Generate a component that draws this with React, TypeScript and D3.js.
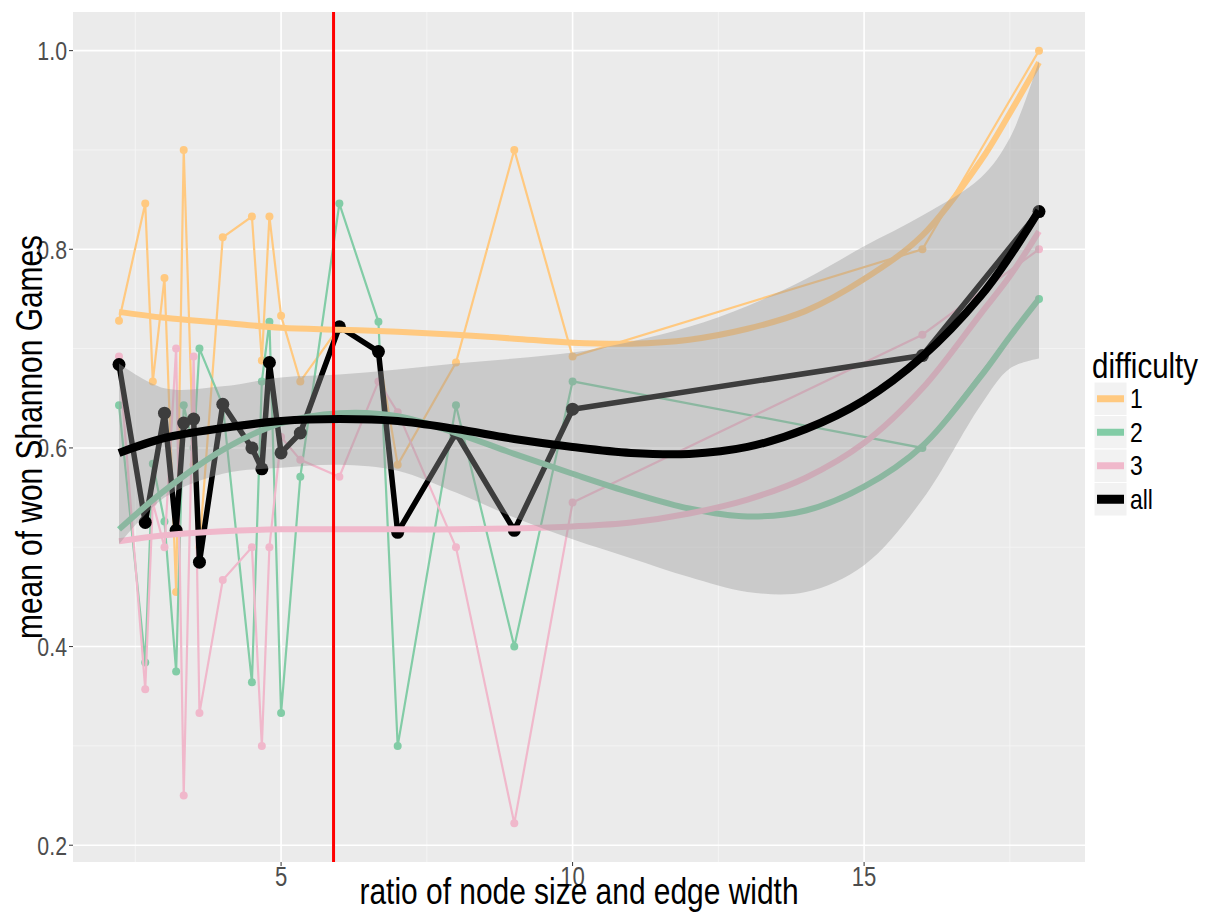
import React from "react";
import * as d3 from "d3";

// ---------- data ----------
const X_VALUES = [2.22, 2.67, 2.8, 3, 3.2, 3.33, 3.5, 3.6, 4, 4.5, 4.67, 4.8, 5, 5.33, 6, 6.67, 7, 8, 9, 10, 16, 18];
const DIFF1 = [0.728, 0.846, 0.667, 0.771, 0.455, 0.9, 0.583, 0.5, 0.812, 0.833, 0.688, 0.833, 0.733, 0.667, 0.722, 0.697, 0.583, 0.686, 0.9, 0.692, 0.8, 1.0];
const DIFF2 = [0.643, 0.384, 0.584, 0.526, 0.375, 0.643, 0.6, 0.7, 0.643, 0.364, 0.667, 0.727, 0.333, 0.571, 0.846, 0.727, 0.3, 0.643, 0.4, 0.667, 0.6, 0.75];
const DIFF3 = [0.692, 0.357, 0.545, 0.5, 0.7, 0.25, 0.692, 0.333, 0.467, 0.5, 0.3, 0.5, 0.611, 0.588, 0.571, 0.667, 0.636, 0.5, 0.222, 0.545, 0.714, 0.8];

const ALL_X = [2.22, 2.67, 3, 3.2, 3.33, 3.5, 3.6, 4, 4.5, 4.67, 4.8, 5, 5.33, 6, 6.67, 7, 8, 9, 10, 16, 18];
const ALL_Y = [0.684, 0.525, 0.635, 0.517, 0.625, 0.629, 0.485, 0.644, 0.6, 0.579, 0.686, 0.595, 0.615, 0.722, 0.697, 0.515, 0.615, 0.517, 0.639, 0.693, 0.838];

// smoothed curves
const SMOOTH_X = [2.22, 3, 4, 5, 6, 7, 8, 9, 10, 11, 12, 13, 14, 15, 16, 17, 17.5, 18];
const SMOOTH_1 = [0.737, 0.731, 0.726, 0.721, 0.719, 0.717, 0.714, 0.71, 0.706, 0.705, 0.709, 0.72, 0.738, 0.77, 0.814, 0.889, 0.937, 0.988];
const SMOOTH_2 = [0.518, 0.557, 0.598, 0.625, 0.635, 0.632, 0.615, 0.594, 0.574, 0.555, 0.539, 0.531, 0.537, 0.561, 0.602, 0.672, 0.712, 0.75];
const SMOOTH_3 = [0.506, 0.512, 0.516, 0.518, 0.518, 0.518, 0.518, 0.519, 0.521, 0.525, 0.534, 0.548, 0.57, 0.605, 0.66, 0.735, 0.773, 0.818];
const SMOOTH_ALL = [0.595, 0.61, 0.62, 0.627, 0.629, 0.627, 0.619, 0.609, 0.601, 0.595, 0.594, 0.601, 0.619, 0.648, 0.692, 0.753, 0.793, 0.839];
const RIBBON_LO = [0.503, 0.55, 0.574, 0.58, 0.583, 0.577, 0.555, 0.53, 0.508, 0.489, 0.47, 0.455, 0.455, 0.482, 0.548, 0.643, 0.68, 0.69];
const RIBBON_HI = [0.685, 0.66, 0.662, 0.671, 0.674, 0.679, 0.685, 0.69, 0.696, 0.707, 0.722, 0.743, 0.77, 0.803, 0.834, 0.872, 0.912, 0.99];

const VLINE_X = 5.9;
const X_TICKS = [5, 10, 15];
const X_MINOR = [2.5, 7.5, 12.5, 17.5];
const Y_TICKS = [0.2, 0.4, 0.6, 0.8, 1.0];
const Y_MINOR = [0.3, 0.5, 0.7, 0.9];

const LEGEND_LABELS = ["1", "2", "3", "all"];
const COLORS = ["#FFC980", "#82CCA6", "#F0B8CB", "#000000"];

// ---------- layout ----------
const W = 1216;
const H = 913;
const P = { left: 73, right: 1085, top: 12, bottom: 862 };
const FONT = "'Liberation Sans', Arial, Helvetica, sans-serif";
const NARROW = 0.82;

function T(props: {
  x: number;
  y: number;
  size: number;
  anchor?: string;
  fill?: string;
  rotate?: number;
  children: React.ReactNode;
}) {
  const { x, y, size, anchor = "start", fill = "#000", rotate = 0, children } = props;
  return (
    <text
      transform={`translate(${x},${y}) rotate(${rotate}) scale(${NARROW},1)`}
      fontSize={size}
      textAnchor={anchor as any}
      fill={fill}
      fontFamily={FONT}
    >
      {children}
    </text>
  );
}

export default function App() {
  const xExt = d3.extent(X_VALUES) as [number, number];
  const xPad = (xExt[1] - xExt[0]) * 0.05;
  const x = d3.scaleLinear().domain([xExt[0] - xPad, xExt[1] + xPad]).range([P.left, P.right]);

  const allVals = [...DIFF1, ...DIFF2, ...DIFF3, ...ALL_Y, ...RIBBON_LO, ...RIBBON_HI];
  const yMin = d3.min(allVals) as number;
  const yMax = d3.max(allVals) as number;
  const yPad = (yMax - yMin) * 0.05;
  const y = d3.scaleLinear().domain([yMin - yPad, yMax + yPad]).range([P.bottom, P.top]);

  const line = d3
    .line<[number, number]>()
    .x((d) => x(d[0]))
    .y((d) => y(d[1]));
  const smooth = d3
    .line<[number, number]>()
    .x((d) => x(d[0]))
    .y((d) => y(d[1]))
    .curve(d3.curveCatmullRom.alpha(0.5));
  const area = d3
    .area<number>()
    .x((_, i) => x(SMOOTH_X[i]))
    .y0((_, i) => y(RIBBON_LO[i]))
    .y1((_, i) => y(RIBBON_HI[i]))
    .curve(d3.curveCatmullRom.alpha(0.5));

  const groups = [DIFF1, DIFF2, DIFF3].map((vals) => X_VALUES.map((xv, i) => [xv, vals[i]] as [number, number]));
  const allPts = ALL_X.map((xv, i) => [xv, ALL_Y[i]] as [number, number]);
  const smooths = [SMOOTH_1, SMOOTH_2, SMOOTH_3].map((vals) => SMOOTH_X.map((xv, i) => [xv, vals[i]] as [number, number]));
  const smoothAll = SMOOTH_X.map((xv, i) => [xv, SMOOTH_ALL[i]] as [number, number]);

  const legendX = 1094;
  const legendY = 382;
  const keyH = 33.5;

  return (
    <svg width={W} height={H} style={{ position: "absolute", left: 0, top: 0, background: "#fff" }}>
      <rect x={P.left} y={P.top} width={P.right - P.left} height={P.bottom - P.top} fill="#EBEBEB" />
      {/* minor grid */}
      {X_MINOR.map((v) => (
        <line key={"xm" + v} x1={x(v)} x2={x(v)} y1={P.top} y2={P.bottom} stroke="#F5F5F5" strokeWidth={0.9} />
      ))}
      {Y_MINOR.map((v) => (
        <line key={"ym" + v} x1={P.left} x2={P.right} y1={y(v)} y2={y(v)} stroke="#F5F5F5" strokeWidth={0.9} />
      ))}
      {/* major grid */}
      {X_TICKS.map((v) => (
        <line key={"xg" + v} x1={x(v)} x2={x(v)} y1={P.top} y2={P.bottom} stroke="#FFFFFF" strokeWidth={1.6} />
      ))}
      {Y_TICKS.map((v) => (
        <line key={"yg" + v} x1={P.left} x2={P.right} y1={y(v)} y2={y(v)} stroke="#FFFFFF" strokeWidth={1.6} />
      ))}

      {/* group data lines and points */}
      {groups.map((pts, gi) => (
        <g key={"g" + gi}>
          <path d={line(pts) || ""} fill="none" stroke={COLORS[gi]} strokeWidth={2.2} />
          {pts.map((p, i) => (
            <circle key={i} cx={x(p[0])} cy={y(p[1])} r={4} fill={COLORS[gi]} />
          ))}
        </g>
      ))}
      {/* all data line */}
      <path d={line(allPts) || ""} fill="none" stroke="#000" strokeWidth={5.5} strokeLinejoin="round" />
      {allPts.map((p, i) => (
        <circle key={"a" + i} cx={x(p[0])} cy={y(p[1])} r={6.5} fill="#000" />
      ))}

      {/* group smooth lines */}
      {smooths.map((pts, gi) => (
        <path key={"s" + gi} d={smooth(pts) || ""} fill="none" stroke={COLORS[gi]} strokeWidth={6} />
      ))}

      {/* ribbon */}
      <path d={area(SMOOTH_ALL) || ""} fill="#999999" fillOpacity={0.4} />

      {/* red vertical line */}
      <line x1={x(VLINE_X)} x2={x(VLINE_X)} y1={P.top} y2={P.bottom} stroke="#FF0000" strokeWidth={3} />

      {/* all smooth */}
      <path d={smooth(smoothAll) || ""} fill="none" stroke="#000" strokeWidth={8} />

      {/* axes ticks */}
      {Y_TICKS.map((v) => (
        <g key={"yt" + v}>
          <line x1={P.left - 4} x2={P.left} y1={y(v)} y2={y(v)} stroke="#333" strokeWidth={1} />
          <T x={P.left - 6} y={y(v) + 9.5} size={26} anchor="end" fill="#4D4D4D">
            {v.toFixed(1)}
          </T>
        </g>
      ))}
      {X_TICKS.map((v) => (
        <g key={"xt" + v}>
          <line x1={x(v)} x2={x(v)} y1={P.bottom} y2={P.bottom + 4} stroke="#333" strokeWidth={1} />
          <T x={x(v)} y={P.bottom + 24} size={27} anchor="middle" fill="#4D4D4D">
            {v}
          </T>
        </g>
      ))}

      {/* axis titles */}
      <T x={(P.left + P.right) / 2} y={904} size={36.5} anchor="middle">
        ratio of node size and edge width
      </T>
      <T x={42} y={(P.top + P.bottom) / 2} size={36.5} anchor="middle" rotate={-90}>
        mean of won Shannon Games
      </T>

      {/* legend */}
      <T x={1092} y={378} size={36} anchor="start">
        difficulty
      </T>
      {LEGEND_LABELS.map((lab, i) => {
        const ky = legendY + i * keyH;
        return (
          <g key={"lg" + i}>
            <rect x={legendX} y={ky} width={33} height={keyH} fill="#F2F2F2" stroke="#FFFFFF" strokeWidth={1} />
            <line
              x1={legendX + 3}
              x2={legendX + 30}
              y1={ky + keyH / 2}
              y2={ky + keyH / 2}
              stroke={COLORS[i]}
              strokeWidth={i === 3 ? 9 : 7}
            />
            <T x={1130} y={ky + keyH / 2 + 9.5} size={28} anchor="start">
              {lab}
            </T>
          </g>
        );
      })}
    </svg>
  );
}
